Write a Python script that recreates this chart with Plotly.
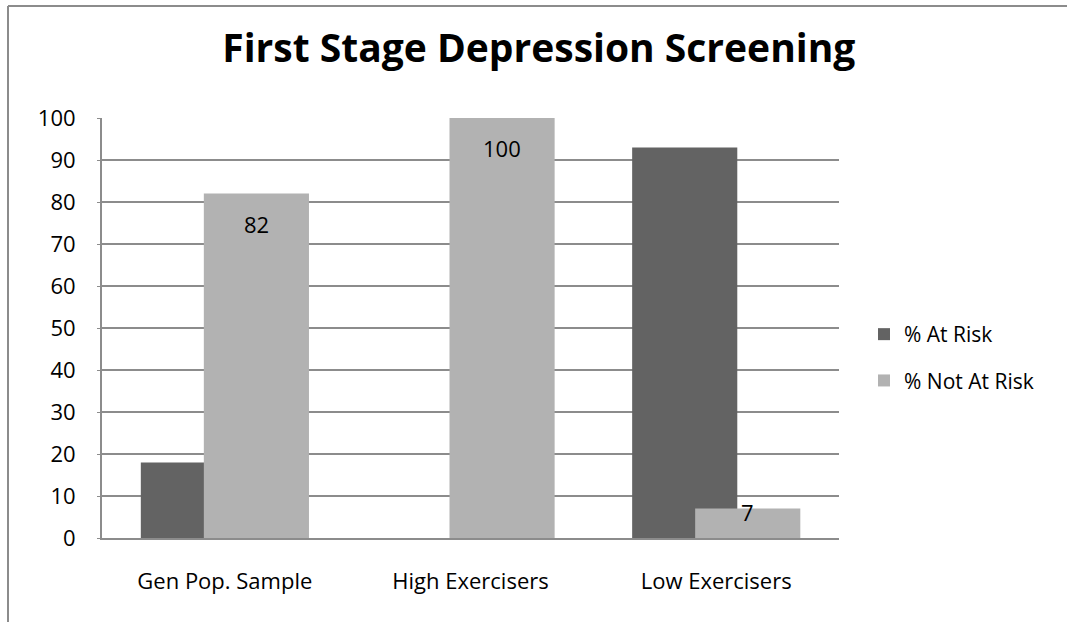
import plotly.graph_objects as go

categories = ["Gen Pop. Sample", "High Exercisers", "Low Exercisers"]
at_risk = [18, 0, 93]
not_at_risk = [82, 100, 7]
y_ticks = [0, 10, 20, 30, 40, 50, 60, 70, 80, 90, 100]

FONT = "Open Sans"
DARK = "#636363"
LIGHT = "#b2b2b2"
GRID = "#8c8c8c"

# Overlapping columns: each bar spans BAR_W of a category slot
BAR_W = 0.428
OFF_DARK = -0.342
OFF_LIGHT = -0.0855

fig = go.Figure()
fig.add_trace(go.Bar(
    x=categories, y=at_risk, name="% At Risk",
    marker=dict(color=DARK, line=dict(width=0)),
    width=BAR_W, offset=OFF_DARK, legendgroup="a",
))
fig.add_trace(go.Bar(
    x=categories, y=not_at_risk, name="% Not At Risk",
    marker=dict(color=LIGHT, line=dict(width=0)),
    width=BAR_W, offset=OFF_LIGHT, legendgroup="b",
))

# value labels inside the top end of the light columns
PX_PER_UNIT = 420 / 100
for i, v in enumerate(not_at_risk):
    shift = min(30, max(3, v * PX_PER_UNIT - 26))
    fig.add_annotation(
        x=i + OFF_LIGHT + BAR_W / 2, y=v, xref="x", yref="y",
        text=str(v), showarrow=False, yanchor="middle", yshift=-shift,
        font=dict(family=FONT, size=22, color="#000000"),
    )

# chart-area frame (top and left edges)
L, R, T, B = 102, 228, 118, 84
W, H = 1067, 622
pw, ph = W - L - R, H - T - B
def px_x(px):
    return (px - L) / pw
def px_y(py):
    return (H - B - py) / ph

fig.add_shape(type="line", xref="paper", yref="paper",
              x0=px_x(8), x1=px_x(1070), y0=px_y(6), y1=px_y(6),
              line=dict(color=GRID, width=2))
fig.add_shape(type="line", xref="paper", yref="paper",
              x0=px_x(8), x1=px_x(8), y0=px_y(6), y1=px_y(625),
              line=dict(color=GRID, width=2))

fig.update_layout(
    width=W, height=H,
    margin=dict(l=L, r=R, t=T, b=B),
    paper_bgcolor="white", plot_bgcolor="white",
    barmode="overlay",
    title=dict(text="<b>First Stage Depression Screening</b>",
               x=0.505, xanchor="center", y=1 - 48 / H, yanchor="middle",
               yref="container",
               font=dict(family=FONT, size=39, color="#000000")),
    font=dict(family=FONT, size=22, color="#000000"),
    legend=dict(x=px_x(864), xanchor="left", y=px_y(314), yanchor="top",
                traceorder="grouped", tracegroupgap=16,
                bgcolor="rgba(0,0,0,0)",
                font=dict(family=FONT, size=21, color="#000000")),
    showlegend=True,
)
fig.update_xaxes(
    type="category", range=[-0.5, 2.5],
    showline=True, linecolor=GRID, linewidth=2,
    showgrid=False, ticks="", ticklabelstandoff=23,
    tickfont=dict(family=FONT, size=22),
)
fig.update_yaxes(
    range=[0, 100], tickvals=y_ticks,
    showline=True, linecolor=GRID, linewidth=2,
    showgrid=True, gridcolor=GRID, gridwidth=1.5,
    ticks="outside", ticklen=3, tickcolor=GRID,
    ticklabelstandoff=17,
    tickfont=dict(family=FONT, size=22), zeroline=False,
)

fig.write_html("out.html")
